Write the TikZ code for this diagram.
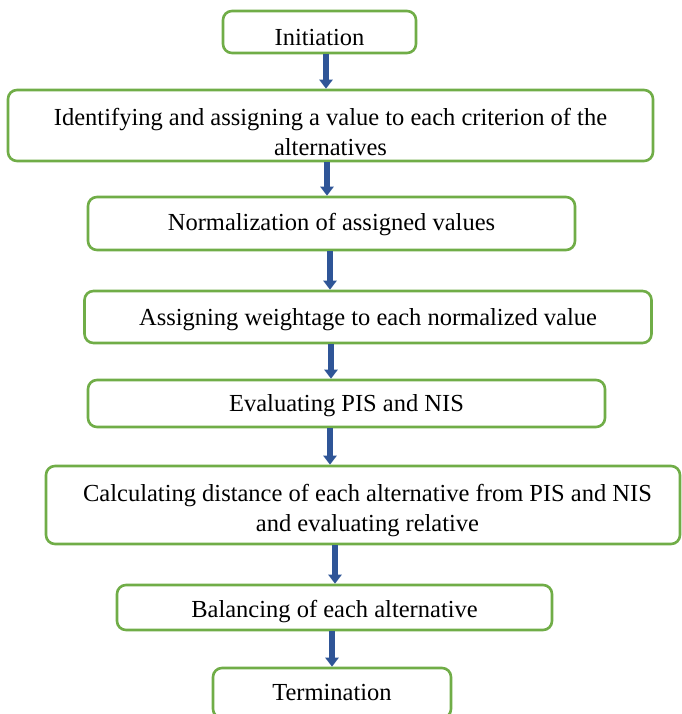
\documentclass[tikz,border=0pt]{standalone}
\usepackage{fontspec}
\setmainfont{Liberation Serif}
\usetikzlibrary{arrows.meta}
\definecolor{boxgreen}{RGB}{112,173,71}
\definecolor{arrblue}{RGB}{47,85,151}
\begin{document}
\begin{tikzpicture}[x=1pt,y=-1pt,
  stepbox/.style={draw=boxgreen,line width=2.6pt,rounded corners=9pt,fill=white,inner sep=0pt},
  steptext/.style={inner sep=0pt,align=center,font=\fontsize{24.5}{30}\selectfont},
  arr/.style={draw=arrblue,line width=5.5pt,-{Triangle[width=13pt,length=9pt]},arrblue}]
\useasboundingbox (0,0) rectangle (681,714);
\fill[white] (0,0) rectangle (681,714);
\node[stepbox,minimum width=193pt,minimum height=42pt] (n1) at (319.5,32) {};
\node[stepbox,minimum width=645pt,minimum height=71pt] (n2) at (330.5,125.5) {};
\node[stepbox,minimum width=487pt,minimum height=53pt] (n3) at (331.5,223.5) {};
\node[stepbox,minimum width=567pt,minimum height=52pt] (n4) at (368,317) {};
\node[stepbox,minimum width=517pt,minimum height=47pt] (n5) at (346.5,403.5) {};
\node[stepbox,minimum width=634pt,minimum height=78pt] (n6) at (363,505) {};
\node[stepbox,minimum width=435pt,minimum height=45pt] (n7) at (334.5,607.5) {};
\node[stepbox,minimum width=238pt,minimum height=50pt] (n8) at (332,693) {};
\node[steptext] (t1) at ([yshift=-6pt]n1.center) {Initiation};
\node[steptext] (t2) at ([yshift=-6pt]n2.center) {Identifying and assigning a value to each criterion of the\\alternatives};
\node[steptext] (t3) at ([yshift=-1pt]n3.center) {Normalization of assigned values};
\node[steptext] (t4) at ([yshift=-3pt]n4.center) {Assigning weightage to each normalized value};
\node[steptext] (t5) at ([yshift=-2pt]n5.center) {Evaluating PIS and NIS};
\node[steptext] (t6) at ([yshift=-6pt,xshift=4.5pt]n6.center) {Calculating distance of each alternative from PIS and NIS\\and evaluating relative};
\node[steptext] (t7) at ([yshift=-4pt]n7.center) {Balancing of each alternative};
\node[steptext] (t8) at (n8.center) {Termination};
\coordinate (x1) at (326,0);
\coordinate (x2) at (327,0);
\coordinate (x3) at (330,0);
\coordinate (x4) at (331,0);
\coordinate (x5) at (330,0);
\coordinate (x6) at (335,0);
\coordinate (x7) at (332,0);
\draw[arr] (n1.south -| x1) -- (n2.north -| x1);
\draw[arr] (n2.south -| x2) -- (n3.north -| x2);
\draw[arr] (n3.south -| x3) -- (n4.north -| x3);
\draw[arr] (n4.south -| x4) -- (n5.north -| x4);
\draw[arr] (n5.south -| x5) -- (n6.north -| x5);
\draw[arr] (n6.south -| x6) -- (n7.north -| x6);
\draw[arr] (n7.south -| x7) -- (n8.north -| x7);
\end{tikzpicture}
\end{document}
